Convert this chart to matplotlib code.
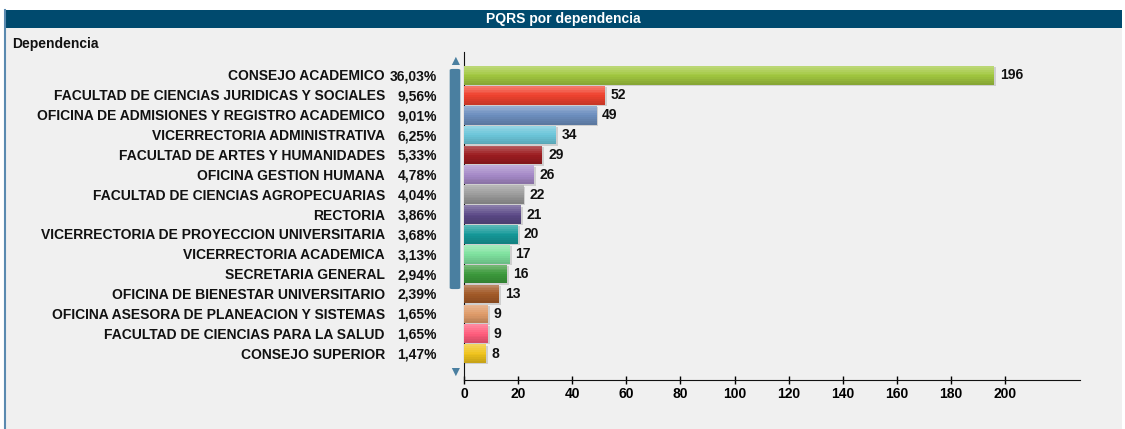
import matplotlib
matplotlib.use("Agg")
import matplotlib.pyplot as plt
import matplotlib.transforms as mtransforms
from matplotlib.patches import Rectangle, FancyBboxPatch
from matplotlib.lines import Line2D

dependencias = [
    "CONSEJO ACADEMICO",
    "FACULTAD DE CIENCIAS JURIDICAS Y SOCIALES",
    "OFICINA DE ADMISIONES Y REGISTRO ACADEMICO",
    "VICERRECTORIA ADMINISTRATIVA",
    "FACULTAD DE ARTES Y HUMANIDADES",
    "OFICINA GESTION HUMANA",
    "FACULTAD DE CIENCIAS AGROPECUARIAS",
    "RECTORIA",
    "VICERRECTORIA DE PROYECCION UNIVERSITARIA",
    "VICERRECTORIA ACADEMICA",
    "SECRETARIA GENERAL",
    "OFICINA DE BIENESTAR UNIVERSITARIO",
    "OFICINA ASESORA DE PLANEACION Y SISTEMAS",
    "FACULTAD DE CIENCIAS PARA LA SALUD",
    "CONSEJO SUPERIOR",
]
cantidades = [196, 52, 49, 34, 29, 26, 22, 21, 20, 17, 16, 13, 9, 9, 8]
porcentajes = ["36,03%", "9,56%", "9,01%", "6,25%", "5,33%", "4,78%", "4,04%", "3,86%",
               "3,68%", "3,13%", "2,94%", "2,39%", "1,65%", "1,65%", "1,47%"]
colores = ["#a2c840", "#f0432f", "#6d8fbf", "#6cc6da", "#9c1c20", "#a68ac8", "#9a9a9a",
           "#5c4a88", "#169a9a", "#7fe3a0", "#3c9a3c", "#a35a28", "#e09c6a", "#ff5c7c",
           "#f0c41c"]

BG = "#f0f0f0"
HEADER = "#004a6e"
W, H = 1125, 429
FS = 10
BAR_H = 0.94
N_STRIPS = 10

plt.rcParams["font.family"] = ["Liberation Sans", "DejaVu Sans"]
fig = plt.figure(figsize=(W / 100, H / 100), dpi=100)
fig.patch.set_facecolor("white")

# panel background + header bar
fig.patches.append(Rectangle((5 / W, 0), 1 - 8 / W, 1 - 10 / H, transform=fig.transFigure,
                             facecolor=BG, edgecolor="none", zorder=-2))
fig.patches.append(Rectangle((5 / W, 1 - 28 / H), 1 - 8 / W, 18 / H, transform=fig.transFigure,
                             facecolor=HEADER, edgecolor="none", zorder=-1))
fig.lines.append(Line2D([5 / W, 5 / W], [0, 1 - 10 / H], transform=fig.transFigure,
                        color="#5a8ab0", lw=1.5))
fig.text(563 / W, 1 - 19 / H, "PQRS por dependencia", color="white", fontsize=FS,
         fontweight="bold", ha="center", va="center")
fig.text(12 / W, 1 - 44 / H, "Dependencia", color="#111111", fontsize=FS,
         fontweight="bold", ha="left", va="center")

ax = fig.add_axes([464 / W, 1 - 380 / H, 616 / W, 328 / H])
ax.set_facecolor(BG)
pos = list(range(len(cantidades)))
# soft shadow
ax.barh([p + 0.07 for p in pos], [c + 0.7 for c in cantidades], height=BAR_H,
        color="#b5b5b5", alpha=0.55, edgecolor="none", zorder=2)
ax.barh(pos, cantidades, height=BAR_H, color=colores, edgecolor="none", zorder=3)
# gradient look: lighter top fading to darker bottom
strip = BAR_H / N_STRIPS
for i in range(N_STRIPS):
    t = i / (N_STRIPS - 1)
    offs = -BAR_H / 2 + strip * (i + 0.5)
    if t < 0.5:
        col, a = "white", 0.28 * (1 - 2 * t)
    else:
        col, a = "black", 0.16 * (2 * t - 1)
    if a <= 0:
        continue
    ax.barh([p + offs for p in pos], cantidades, height=strip, color=col, alpha=a,
            edgecolor="none", zorder=4)

for p, c in zip(pos, cantidades):
    ax.annotate(str(c), (c, p), xytext=(4, 0), textcoords="offset points",
                ha="left", va="center", fontsize=FS, fontweight="bold", color="#111111")

ax.set_xlim(0, 227.7)
ax.set_ylim(len(cantidades) - 1 + 1.33, -1.18)
ax.set_xticks(range(0, 201, 20))
ax.tick_params(axis="x", direction="inout", length=6, width=1, labelsize=FS, pad=2)
for lbl in ax.get_xticklabels():
    lbl.set_fontweight("bold")
ax.set_yticks([])
for s in ["top", "right"]:
    ax.spines[s].set_visible(False)
ax.spines["left"].set_color("#111111")
ax.spines["bottom"].set_color("#111111")

blend = mtransforms.blended_transform_factory(fig.transFigure, ax.transData)
for p, name, pct in zip(pos, dependencias, porcentajes):
    fig.text(385 / W, p + 0.05, name, transform=blend, ha="right", va="center",
             fontsize=FS, fontweight="bold", color="#111111")
    fig.text(437 / W, p + 0.05, pct, transform=blend, ha="right", va="center",
             fontsize=FS, fontweight="bold", color="#111111")

# scrollbar
fig.patches.append(FancyBboxPatch((452.5 / W, 1 - 288 / H), 5 / W, 218 / H,
                                  boxstyle="round,pad=0.0025", transform=fig.transFigure,
                                  facecolor="#4a7fa0", edgecolor="none"))
fig.text(455 / W, 1 - 61 / H, "\u25b2", color="#4a7fa0", fontsize=10, ha="center", va="center")
fig.text(455 / W, 1 - 372 / H, "\u25bc", color="#4a7fa0", fontsize=10, ha="center", va="center")

fig.savefig("out.png", dpi=100, facecolor=fig.get_facecolor())
